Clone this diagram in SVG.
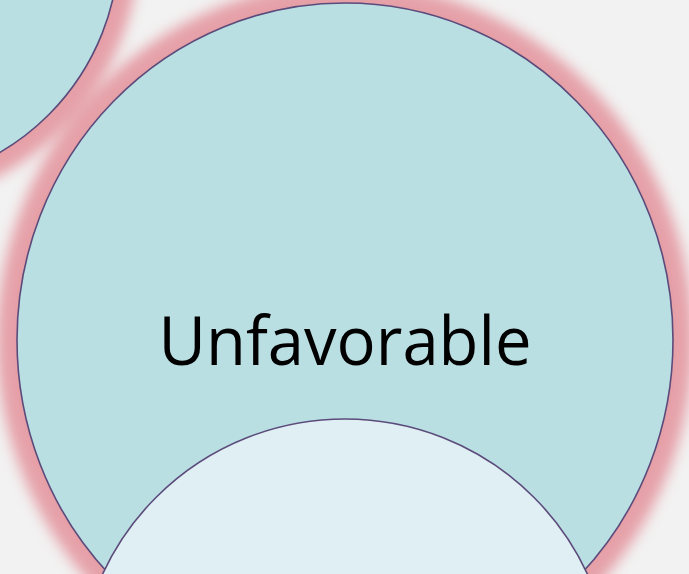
<svg xmlns="http://www.w3.org/2000/svg" width="689" height="574" viewBox="0 0 689 574">
  <defs>
    <filter id="glow" x="-30%" y="-30%" width="160%" height="160%">
      <feGaussianBlur stdDeviation="7"/>
    </filter>
    <style>
      .glow { fill: #d9505f; opacity: 0.5; filter: url(#glow); }
      .shape { stroke: #5b4b7b; stroke-width: 1.6; }
      .outer { fill: #badfe3; }
      .inner { fill: #dfeff3; }
      .label { font-family: "Open Sans", "Noto Sans", sans-serif; font-size: 68px; fill: #000000; }
    </style>
  </defs>
  <rect x="0" y="0" width="689" height="574" fill="#f2f2f2"/>
  <g id="glows">
    <circle class="glow" cx="-121" cy="-55" r="260"/>
    <ellipse class="glow" cx="345" cy="340" rx="348" ry="357"/>
  </g>
  <g id="node-topleft">
    <circle class="shape outer" cx="-121" cy="-55" r="240"/>
  </g>
  <g id="node-unfavorable">
    <ellipse class="shape outer" cx="345" cy="340" rx="328" ry="337"/>
    <text class="label" x="345" y="365" text-anchor="middle" textLength="373" lengthAdjust="spacingAndGlyphs">Unfavorable</text>
  </g>
  <g id="node-bottom">
    <circle class="shape inner" cx="345" cy="686" r="267"/>
  </g>
  <g id="connectors"></g>
</svg>
